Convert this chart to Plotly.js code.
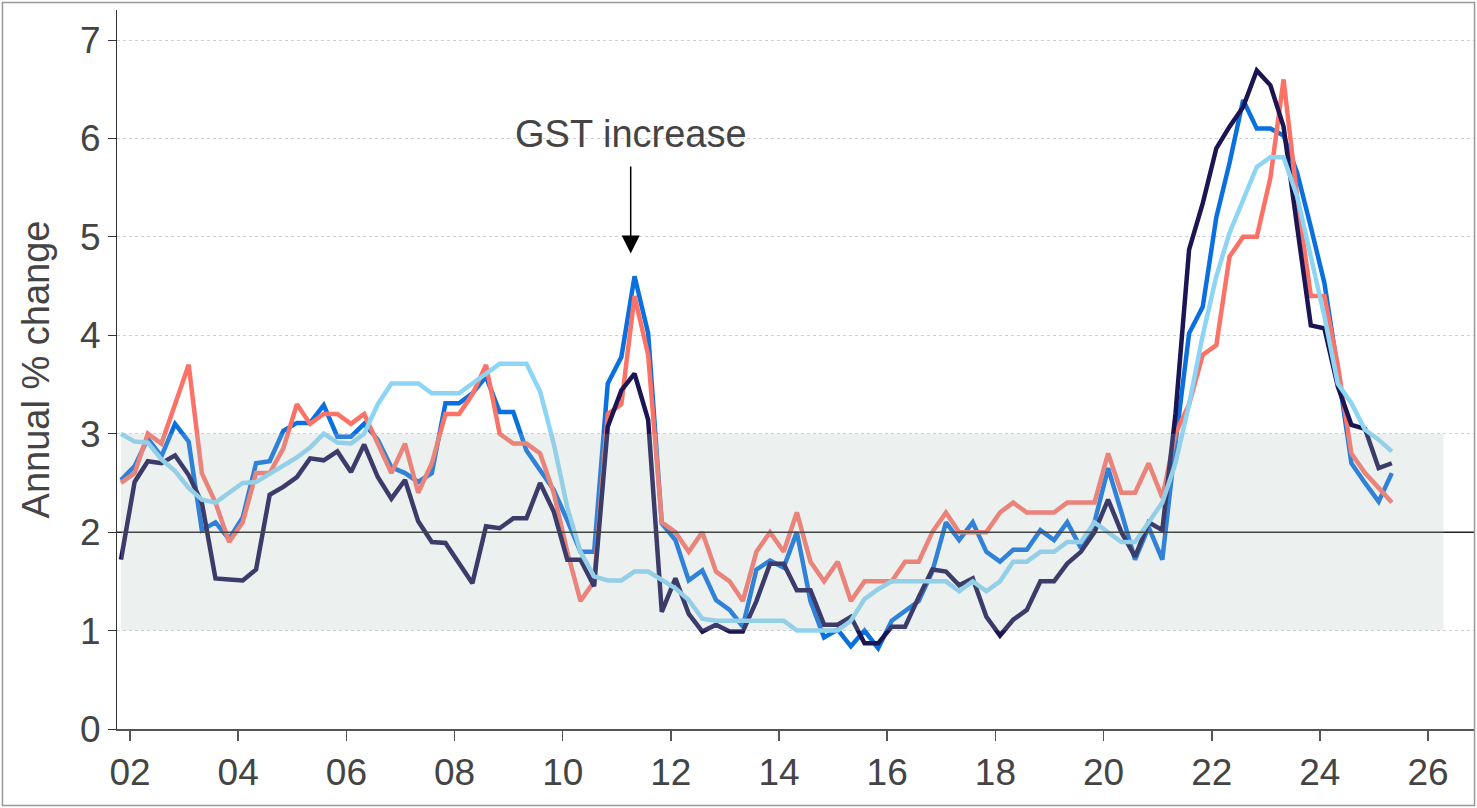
<!DOCTYPE html>
<html>
<head>
<meta charset="utf-8">
<script src="https://cdn.plot.ly/plotly-3.0.1.min.js"></script>
<style>
  html, body { margin: 0; padding: 0; background: #ffffff; }
  #chart { width: 1477px; height: 808px; }
</style>
</head>
<body>
<div id="chart"></div>
<script>
// Quarterly observations, 2001Q4 to 2025Q2
const quarters = [
  '2001Q4',
  '2002Q1','2002Q2','2002Q3','2002Q4',
  '2003Q1','2003Q2','2003Q3','2003Q4',
  '2004Q1','2004Q2','2004Q3','2004Q4',
  '2005Q1','2005Q2','2005Q3','2005Q4',
  '2006Q1','2006Q2','2006Q3','2006Q4',
  '2007Q1','2007Q2','2007Q3','2007Q4',
  '2008Q1','2008Q2','2008Q3','2008Q4',
  '2009Q1','2009Q2','2009Q3','2009Q4',
  '2010Q1','2010Q2','2010Q3','2010Q4',
  '2011Q1','2011Q2','2011Q3','2011Q4',
  '2012Q1','2012Q2','2012Q3','2012Q4',
  '2013Q1','2013Q2','2013Q3','2013Q4',
  '2014Q1','2014Q2','2014Q3','2014Q4',
  '2015Q1','2015Q2','2015Q3','2015Q4',
  '2016Q1','2016Q2','2016Q3','2016Q4',
  '2017Q1','2017Q2','2017Q3','2017Q4',
  '2018Q1','2018Q2','2018Q3','2018Q4',
  '2019Q1','2019Q2','2019Q3','2019Q4',
  '2020Q1','2020Q2','2020Q3','2020Q4',
  '2021Q1','2021Q2','2021Q3','2021Q4',
  '2022Q1','2022Q2','2022Q3','2022Q4',
  '2023Q1','2023Q2','2023Q3','2023Q4',
  '2024Q1','2024Q2','2024Q3','2024Q4',
  '2025Q1','2025Q2'
];

const seriesNavy = [
  1.72,
  2.51,2.72,2.70,2.78, 2.58,2.30,1.53,1.52, 1.51,1.62,2.38,2.46, 2.56,2.75,2.73,2.82,
  2.61,2.89,2.56,2.34, 2.53,2.11,1.90,1.89, 1.68,1.48,2.06,2.04, 2.14,2.14,2.50,2.21,
  1.72,1.72,1.45,3.07, 3.44,3.61,3.14,1.19, 1.53,1.17,0.99,1.06, 0.99,0.99,1.30,1.68,
  1.68,1.41,1.41,1.06, 1.06,1.14,0.87,0.87, 1.04,1.04,1.34,1.62, 1.60,1.46,1.53,1.14,
  0.95,1.11,1.21,1.50, 1.50,1.68,1.80,2.00, 2.33,2.00,1.75,2.10, 2.02,3.20,4.87,5.34,
  5.90,6.12,6.32,6.69, 6.54,6.12,5.10,4.10, 4.07,3.48,3.09,3.05, 2.65,2.70
];

const seriesBlue = [
  2.53,
  2.67,2.95,2.77,3.10, 2.92,2.02,2.10,1.93, 2.15,2.70,2.72,3.03, 3.11,3.11,3.29,2.97,
  2.97,3.10,2.94,2.66, 2.60,2.51,2.60,3.31, 3.31,3.41,3.58,3.22, 3.22,2.83,2.63,2.43,
  2.12,1.80,1.80,3.51, 3.78,4.60,4.02,2.09, 1.92,1.51,1.61,1.31, 1.21,1.04,1.62,1.71,
  1.64,2.00,1.30,0.93, 1.01,0.84,1.00,0.82, 1.10,1.20,1.30,1.60, 2.10,1.92,2.10,1.80,
  1.70,1.82,1.82,2.02, 1.92,2.10,1.84,2.10, 2.65,2.20,1.72,2.05, 1.72,2.90,4.02,4.29,
  5.20,5.75,6.39,6.10, 6.10,6.03,5.65,5.10, 4.53,3.65,2.70,2.50, 2.31,2.60
];

const seriesSalmon = [
  2.50,
  2.60,3.00,2.90,3.30, 3.70,2.60,2.30,1.90, 2.10,2.60,2.60,2.85, 3.30,3.10,3.20,3.20,
  3.10,3.20,2.90,2.60, 2.90,2.40,2.70,3.20, 3.20,3.40,3.70,3.00, 2.90,2.90,2.80,2.40,
  1.80,1.30,1.50,3.20, 3.30,4.40,3.80,2.10, 2.00,1.80,2.00,1.60, 1.50,1.30,1.80,2.00,
  1.80,2.20,1.70,1.50, 1.70,1.30,1.50,1.50, 1.50,1.70,1.70,2.00, 2.20,2.00,2.00,2.00,
  2.20,2.30,2.20,2.20, 2.20,2.30,2.30,2.30, 2.80,2.40,2.40,2.70, 2.35,3.00,3.30,3.80,
  3.90,4.80,5.00,5.00, 5.60,6.60,5.40,4.40, 4.40,3.70,2.80,2.60, 2.45,2.30
];

const seriesLight = [
  3.00,
  2.92,2.91,2.74,2.62, 2.45,2.33,2.30,2.40, 2.50,2.51,2.59,2.67, 2.76,2.86,3.00,2.91,
  2.90,3.00,3.30,3.51, 3.51,3.51,3.41,3.41, 3.41,3.51,3.61,3.71, 3.71,3.71,3.43,2.90,
  2.25,1.80,1.55,1.51, 1.51,1.60,1.60,1.51, 1.43,1.31,1.12,1.10, 1.10,1.10,1.10,1.10,
  1.10,1.00,1.00,1.00, 1.00,1.10,1.32,1.42, 1.50,1.50,1.50,1.50, 1.50,1.40,1.50,1.40,
  1.50,1.70,1.70,1.80, 1.80,1.90,1.90,2.10, 2.00,1.90,1.90,2.10, 2.30,2.70,3.30,4.00,
  4.60,5.04,5.37,5.71, 5.81,5.81,5.41,4.80, 4.19,3.51,3.31,3.04, 2.94,2.82
];

const yTicks = [0, 1, 2, 3, 4, 5, 6, 7];
const targetBand = [1, 3];
const targetMid = 2;
const annotationText = 'GST increase';
const yTitle = 'Annual % change';

// quarter label -> date at the middle month of the quarter
const midMonth = {Q1: '02', Q2: '05', Q3: '08', Q4: '11'};
const xDates = quarters.map(q => q.slice(0, 4) + '-' + midMonth[q.slice(4)] + '-01');

const FONT = 'Liberation Sans, Arial, Helvetica, sans-serif';
const lineW = 4.5;

function mk(y, color) {
  return {
    x: xDates, y: y, type: 'scatter', mode: 'lines',
    line: {color: color, width: lineW},
    hoverinfo: 'skip', showlegend: false
  };
}

const traces = [
  mk(seriesBlue, '#0a70e0'),
  mk(seriesSalmon, '#fd7267'),
  mk(seriesNavy, '#1b1553'),
  mk(seriesLight, '#8cd5f4')
];

const layout = {
  width: 1477, height: 808,
  margin: {l: 117, r: 3, t: 10, b: 79},
  paper_bgcolor: '#ffffff', plot_bgcolor: '#ffffff',
  font: {family: FONT, color: '#444444'},
  showlegend: false,
  xaxis: {
    type: 'date',
    range: ['2001-10-05', '2026-11-07'],
    tick0: '2002-01-01', dtick: 'M24', tickformat: '%y',
    ticks: 'outside', ticklen: 10, tickwidth: 1.5, tickcolor: '#555555',
    showline: true, linecolor: '#555555', linewidth: 2,
    showgrid: false, zeroline: false,
    tickfont: {family: FONT, size: 37, color: '#444444'}
  },
  yaxis: {
    range: [0, 7.305],
    tickvals: yTicks,
    ticks: 'outside', ticklen: 8, tickwidth: 1, tickcolor: '#333333',
    showline: true, linecolor: '#333333', linewidth: 1,
    showgrid: true, gridcolor: '#c8d2d6', gridwidth: 1, griddash: 'dot',
    zeroline: false,
    tickfont: {family: FONT, size: 37, color: '#444444'},
    title: {text: yTitle, font: {family: FONT, size: 38, color: '#444444'}, standoff: 18}
  },
  shapes: [
    {type: 'line', xref: 'paper', yref: 'y', x0: 0, x1: 1, y0: targetMid, y1: targetMid,
     line: {color: '#222222', width: 1.5}, layer: 'above'},
    {type: 'rect', xref: 'x', yref: 'y', x0: xDates[0], x1: '2026-04-15',
     y0: targetBand[0], y1: targetBand[1],
     fillcolor: 'rgb(172,189,185)', opacity: 0.23, line: {width: 0}, layer: 'above'},
    {type: 'rect', xref: 'paper', yref: 'paper',
     x0: -0.0844, x1: 1.0004, y0: -0.1064, y1: 1.0104,
     line: {color: '#999999', width: 1.5}, fillcolor: 'rgba(0,0,0,0)', layer: 'above'}
  ],
  annotations: [
    {x: '2011-04-05', y: 6.05, xref: 'x', yref: 'y', text: annotationText,
     showarrow: false, xanchor: 'center', yanchor: 'middle',
     font: {family: FONT, size: 38, color: '#444444'}},
    {x: '2011-04-05', y: 4.83, xref: 'x', yref: 'y', text: ' ',
     showarrow: true, ax: 0, ay: -89, arrowhead: 2, arrowsize: 2.4, arrowwidth: 1.5,
     arrowcolor: '#000000', font: {size: 1}}
  ]
};

Plotly.newPlot('chart', traces, layout, {displayModeBar: false, staticPlot: true});
</script>
</body>
</html>
